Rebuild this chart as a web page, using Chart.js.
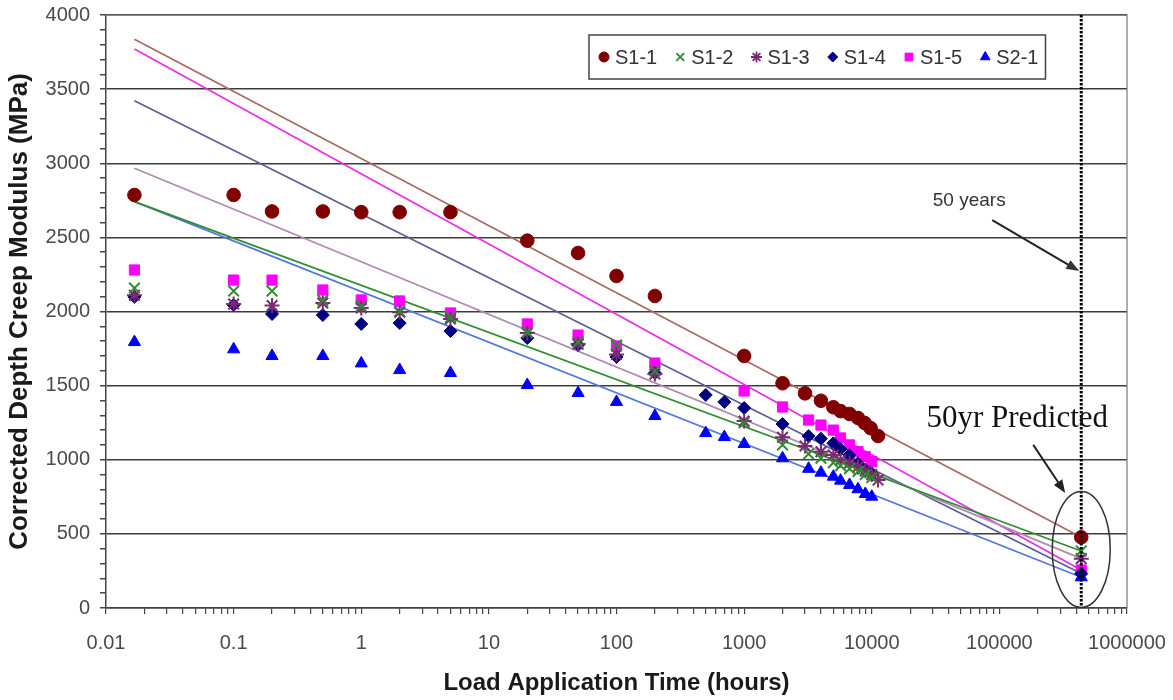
<!DOCTYPE html>
<html>
<head>
<meta charset="utf-8">
<script src="https://cdn.jsdelivr.net/npm/chart.js@4.4.1/dist/chart.umd.min.js"></script>
<style>
  html, body { margin: 0; padding: 0; background: #fff; }
  #wrap { width: 1173px; height: 700px; }
</style>
</head>
<body>
<div id="wrap"><canvas id="creepChart" width="1173" height="700"></canvas></div>
<script>
// measured creep modulus (MPa) vs. load time (hours)
const SERIES_NAMES = ['S1-1', 'S1-2', 'S1-3', 'S1-4', 'S1-5', 'S2-1'];

const TIME_S11 = [0.0167, 0.1, 0.2, 0.5, 1, 2, 5, 20, 50, 100, 200, 1000, 2000, 3000, 4000, 5000, 5700, 6700, 7800, 8800, 9800, 11200];
const VALS_S11 = [2786, 2786, 2675, 2675, 2670, 2670, 2670, 2478, 2395, 2240, 2105, 1700, 1516, 1448, 1398, 1354, 1328, 1309, 1282, 1248, 1213, 1160];

const TIME_S12 = [0.0167, 0.1, 0.2, 0.5, 1, 2, 5, 20, 50, 100, 200, 1000, 2000, 3200, 4000, 5000, 5700, 6700, 7800, 8900, 10000];
const VALS_S12 = [2158, 2138, 2138, 2075, 2035, 2000, 1960, 1860, 1794, 1774, 1600, 1250, 1100, 1039, 1010, 980, 960, 940, 920, 900, 880];

const TIME_S13 = [0.0167, 0.1, 0.2, 0.5, 1, 2, 5, 20, 50, 100, 200, 1000, 2000, 3000, 4000, 5000, 5700, 6700, 7800, 8900, 10000, 11200];
const VALS_S13 = [2110, 2050, 2040, 2057, 2024, 1995, 1950, 1855, 1780, 1710, 1578, 1261, 1151, 1093, 1054, 1032, 998, 978, 951, 925, 900, 863];

const TIME_S14 = [0.0167, 0.1, 0.2, 0.5, 1, 2, 5, 20, 50, 100, 200, 500, 700, 1000, 2000, 3200, 4000, 5000, 5700, 6700, 7800, 8900, 10000];
const VALS_S14 = [2098, 2044, 1983, 1976, 1916, 1922, 1868, 1821, 1774, 1693, 1585, 1437, 1390, 1349, 1241, 1160, 1142, 1111, 1071, 1032, 976, 931, 908];

const TIME_S15 = [0.0167, 0.1, 0.2, 0.5, 1, 2, 5, 20, 50, 100, 200, 1000, 2000, 3200, 4000, 5000, 5700, 6700, 7800, 8900, 10000];
const VALS_S15 = [2280, 2212, 2212, 2145, 2078, 2071, 1990, 1916, 1841, 1767, 1652, 1464, 1356, 1268, 1234, 1200, 1147, 1100, 1054, 1020, 987];

const TIME_S21 = [0.0167, 0.1, 0.2, 0.5, 1, 2, 5, 20, 50, 100, 200, 500, 700, 1000, 2000, 3200, 4000, 5000, 5700, 6700, 7800, 8900, 10000];
const VALS_S21 = [1794, 1745, 1700, 1700, 1650, 1605, 1585, 1504, 1450, 1390, 1295, 1180, 1153, 1106, 1010, 939, 913, 886, 859, 830, 801, 769, 751];

// trend lines: value at first reading and predicted value at 50 years
const FIFTY_YEARS = 438000;
const TREND_START_TIME = 0.0167;
const TREND_START = [3836, 2741, 2966, 3422, 3771, 2741];
const PREDICTED = [477, 385, 333, 232, 256, 207];

const Y_TICK_STEP = 100;
const Y_LABEL_STEP = 500;

const TIMES = [TIME_S11, TIME_S12, TIME_S13, TIME_S14, TIME_S15, TIME_S21];
const VALUES = [VALS_S11, VALS_S12, VALS_S13, VALS_S14, VALS_S15, VALS_S21];

// styling
const MARKER_STYLE = ['circle', 'crossRot', 'star', 'rectRot', 'rect', 'triangle'];
const MARKER_SIZE = [6.8, 7.5, 7.5, 6.5, 7.2, 7];
const LEGEND_SIZE = [5, 5.5, 5.5, 5, 5.5, 5.5];
const MARKER_COLOR = ['#800000', '#2e8b2e', '#7a2a72', '#000080', '#ff00ff', '#0000ff'];
const LINE_COLOR = ['#a66b63', '#2f8f2f', '#b08ab0', '#5c5c98', '#e82ee8', '#5577e0'];
const FONT = 'Arial, "Liberation Sans", sans-serif';

function toPoints(times, values) {
    return times.map((t, i) => ({ x: t, y: values[i] }));
}

function isOutline(style) {
    return style === 'crossRot' || style === 'star';
}

const datasets = [];
SERIES_NAMES.forEach((name, i) => {
    const outline = isOutline(MARKER_STYLE[i]);
    datasets.push({
        type: 'scatter',
        label: name,
        data: toPoints(TIMES[i], VALUES[i]).concat([{ x: FIFTY_YEARS, y: PREDICTED[i] }]),
        pointStyle: MARKER_STYLE[i],
        pointRadius: MARKER_SIZE[i],
        backgroundColor: MARKER_COLOR[i],
        borderColor: MARKER_COLOR[i],
        borderWidth: outline ? 2 : 1,
        order: 1
    });
    datasets.push({
        type: 'line',
        label: name + ' trend',
        data: [{ x: TREND_START_TIME, y: TREND_START[i] }, { x: FIFTY_YEARS, y: PREDICTED[i] }],
        borderColor: LINE_COLOR[i],
        borderWidth: 1.7,
        pointRadius: 0,
        fill: false,
        order: 2
    });
});

function drawMarker(ctx, style, x, y, r, color) {
    ctx.save();
    ctx.fillStyle = color;
    ctx.strokeStyle = color;
    ctx.lineWidth = isOutline(style) ? 1.8 : 1;
    Chart.helpers.drawPoint(ctx, { pointStyle: style, radius: r, rotation: 0, borderWidth: ctx.lineWidth }, x, y);
    ctx.restore();
}

function arrow(ctx, x1, y1, x2, y2) {
    const ang = Math.atan2(y2 - y1, x2 - x1);
    const head = 13, half = 5;
    ctx.beginPath();
    ctx.moveTo(x1, y1);
    ctx.lineTo(x2 - Math.cos(ang) * head * 0.8, y2 - Math.sin(ang) * head * 0.8);
    ctx.stroke();
    ctx.beginPath();
    ctx.moveTo(x2, y2);
    ctx.lineTo(x2 - Math.cos(ang) * head + Math.sin(ang) * half, y2 - Math.sin(ang) * head - Math.cos(ang) * half);
    ctx.lineTo(x2 - Math.cos(ang) * head - Math.sin(ang) * half, y2 - Math.sin(ang) * head + Math.cos(ang) * half);
    ctx.closePath();
    ctx.fill();
}

const frame = {
    id: 'frame',
    beforeDatasetsDraw(chart) {
        const { ctx, chartArea: a } = chart;
        ctx.save();
        ctx.strokeStyle = '#777';
        ctx.lineWidth = 1.2;
        ctx.beginPath();
        ctx.moveTo(a.left, a.top);
        ctx.lineTo(a.right, a.top);
        ctx.lineTo(a.right, a.bottom);
        ctx.stroke();
        ctx.restore();
    }
};

const annotations = {
    id: 'annotations',
    afterDatasetsDraw(chart) {
        const { ctx, chartArea: a, scales: { x, y } } = chart;
        const px = x.getPixelForValue(FIFTY_YEARS);
        ctx.save();

        // 50 year line
        ctx.strokeStyle = '#000';
        ctx.lineWidth = 3;
        ctx.setLineDash([2.5, 1.5]);
        ctx.beginPath();
        ctx.moveTo(px, a.top);
        ctx.lineTo(px, a.bottom);
        ctx.stroke();
        ctx.setLineDash([]);

        // ellipse round the predictions
        ctx.strokeStyle = '#333';
        ctx.lineWidth = 1.5;
        ctx.beginPath();
        ctx.ellipse(px, y.getPixelForValue(395), 29, 58, 0, 0, Math.PI * 2);
        ctx.stroke();

        ctx.fillStyle = '#333';
        ctx.strokeStyle = '#222';
        ctx.lineWidth = 2;
        ctx.font = '19px ' + FONT;
        ctx.textAlign = 'center';
        ctx.textBaseline = 'middle';
        ctx.fillText('50 years', px - 112, y.getPixelForValue(2750));
        arrow(ctx, px - 89, y.getPixelForValue(2617), px - 2, y.getPixelForValue(2273));

        ctx.fillStyle = '#111';
        ctx.font = '31px "Liberation Serif", "Times New Roman", serif';
        ctx.textBaseline = 'alphabetic';
        ctx.fillText('50yr Predicted', px - 64, y.getPixelForValue(1221));
        ctx.fillStyle = '#222';
        arrow(ctx, px - 48, y.getPixelForValue(1100), px - 16, y.getPixelForValue(776));
        ctx.restore();
    }
};

const boxLegend = {
    id: 'boxLegend',
    afterDraw(chart) {
        const { ctx, chartArea: a } = chart;
        const left = a.left + 483, top = a.top + 20, h = 44;
        const midY = top + h / 2;
        ctx.save();
        ctx.font = '20px ' + FONT;
        let cx = left + 15;
        const items = SERIES_NAMES.map((name) => {
            const item = { mx: cx, tx: cx + 11 };
            cx = item.tx + ctx.measureText(name).width + 23;
            return item;
        });
        const right = cx - 23 + 7;
        ctx.fillStyle = '#fff';
        ctx.fillRect(left, top, right - left, h);
        ctx.strokeStyle = '#444';
        ctx.lineWidth = 1.5;
        ctx.strokeRect(left, top, right - left, h);
        ctx.textBaseline = 'middle';
        ctx.textAlign = 'left';
        SERIES_NAMES.forEach((name, i) => {
            drawMarker(ctx, MARKER_STYLE[i], items[i].mx, midY, LEGEND_SIZE[i], MARKER_COLOR[i]);
            ctx.fillStyle = '#333';
            ctx.fillText(name, items[i].tx, midY + 1);
        });
        ctx.restore();
    }
};

new Chart(document.getElementById('creepChart'), {
    data: { datasets: datasets },
    options: {
        responsive: false,
        animation: false,
        layout: { padding: { left: 0, top: 15, right: 46, bottom: 0 } },
        plugins: {
            legend: { display: false },
            tooltip: { enabled: false }
        },
        scales: {
            x: {
                type: 'logarithmic',
                min: 0.01,
                max: 1000000,
                afterBuildTicks: (scale) => {
                    const ticks = [];
                    for (let e = -2; e < 6; e++) {
                        for (let m = 1; m < 10; m++) {
                            ticks.push({ value: Number((m * Math.pow(10, e)).toPrecision(6)) });
                        }
                    }
                    ticks.push({ value: 1000000 });
                    scale.ticks = ticks;
                },
                afterFit: (scale) => {
                    scale.height = 92;
                    scale.paddingLeft = 20;
                    scale.paddingRight = 40;
                },
                grid: { drawOnChartArea: false, drawTicks: true, tickLength: 6, tickColor: '#444', lineWidth: 1.2 },
                border: { display: true, color: '#444', width: 1.5 },
                ticks: {
                    autoSkip: false,
                    maxRotation: 0,
                    padding: 17,
                    color: '#4a4a4a',
                    font: { family: FONT, size: 20 },
                    callback: (v) => {
                        const e = Math.log10(v);
                        return Math.abs(e - Math.round(e)) < 1e-6 ? String(Number(v.toPrecision(6))) : '';
                    }
                },
                title: {
                    display: true,
                    text: 'Load Application Time (hours)',
                    color: '#1a1a1a',
                    font: { family: FONT, size: 24, weight: 'bold' },
                    padding: { top: 0, bottom: 2 }
                }
            },
            y: {
                min: 0,
                max: 4000,
                afterFit: (scale) => {
                    scale.width = 106;
                    scale.paddingTop = 12;
                    scale.paddingBottom = 12;
                },
                grid: {
                    color: (c) => (c.tick && c.tick.value % Y_LABEL_STEP === 0) ? '#3c3c3c' : 'rgba(0,0,0,0)',
                    lineWidth: 1.5,
                    tickLength: 6,
                    tickColor: '#444'
                },
                border: { display: true, color: '#444', width: 1.5 },
                ticks: {
                    stepSize: Y_TICK_STEP,
                    maxTicksLimit: 100,
                    autoSkip: false,
                    padding: 10,
                    color: '#4a4a4a',
                    font: { family: FONT, size: 20 },
                    callback: (v) => (v % Y_LABEL_STEP === 0 ? String(v) : '')
                },
                title: {
                    display: true,
                    text: 'Corrected Depth Creep Modulus (MPa)',
                    color: '#1a1a1a',
                    font: { family: FONT, size: 26, weight: 'bold' },
                    padding: { top: 4, bottom: 0 }
                }
            }
        }
    },
    plugins: [frame, annotations, boxLegend]
});
</script>
</body>
</html>
